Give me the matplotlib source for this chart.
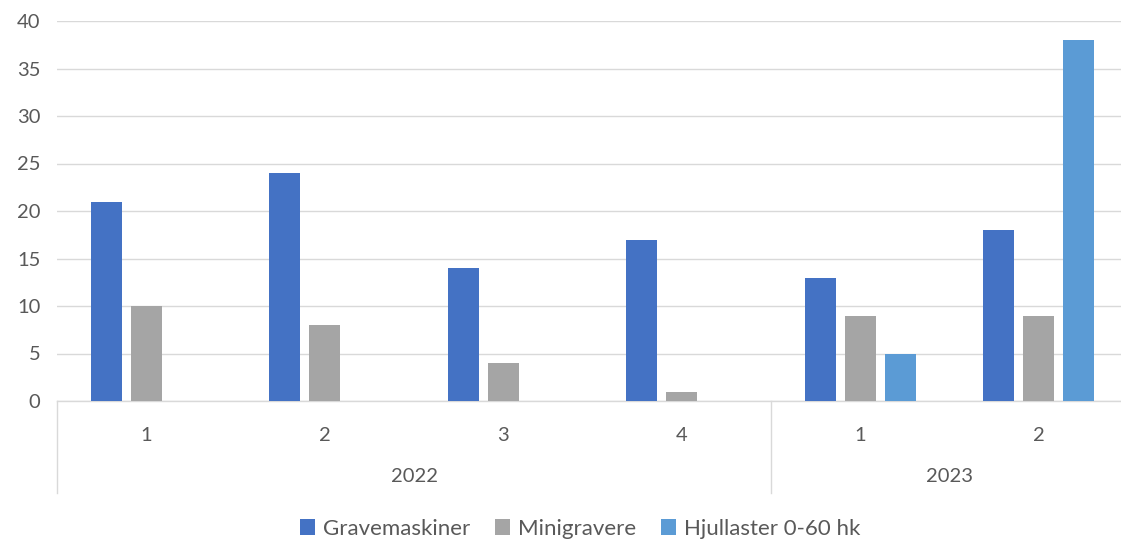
import matplotlib
matplotlib.use("Agg")
import matplotlib.pyplot as plt
import numpy as np
from matplotlib.transforms import blended_transform_factory

plt.rcParams['font.family'] = ['Lato', 'DejaVu Sans']

years = ["2022", "2023"]
quarters = ["1", "2", "3", "4", "1", "2"]
year_of_cat = [0, 0, 0, 0, 1, 1]
series_names = ["Gravemaskiner", "Minigravere", "Hjullaster 0-60 hk"]
gravemaskiner = [21, 24, 14, 17, 13, 18]
minigravere = [10, 8, 4, 1, 9, 9]
hjullaster = [0, 0, 0, 0, 5, 38]
colors = ["#4472C4", "#A5A5A5", "#5B9BD5"]
yticks = [0, 5, 10, 15, 20, 25, 30, 35, 40]

W, H = 1121, 539
fig = plt.figure(figsize=(W / 100, H / 100), dpi=100)
left, right, bottom, top = 57, 1128, 401, 21
ax = fig.add_axes([left / W, 1 - bottom / H, (right - left) / W, (bottom - top) / H])

x = np.arange(len(quarters))
bw = 0.176
off = 0.224
for i, (vals, name, c) in enumerate(zip([gravemaskiner, minigravere, hjullaster], series_names, colors)):
    ax.bar(x + (i - 1) * off, vals, width=bw, color=c, label=name, zorder=3)

ax.set_xlim(-0.5, len(quarters) - 0.5)
ax.set_ylim(0, 40)
ax.set_yticks(yticks)
ax.yaxis.grid(True, color="#D9D9D9", linewidth=1.0, zorder=0)
for s in ["top", "right", "left"]:
    ax.spines[s].set_visible(False)
ax.spines["bottom"].set_color("#D9D9D9")
ax.spines["bottom"].set_linewidth(1.0)
ax.tick_params(axis="y", length=0, pad=12, labelsize=14.5, labelcolor="#595959")
ax.set_xticks(x)
ax.set_xticklabels(quarters)
ax.tick_params(axis="x", length=0, pad=19, labelsize=14.5, labelcolor="#595959")

trans = blended_transform_factory(ax.transData, ax.transAxes)
depth = -(493 - 401) / (bottom - top)
for b in [-0.5, 3.5, 5.5]:
    ax.plot([b, b], [0, depth], transform=trans, color="#D9D9D9", linewidth=1.0, clip_on=False)
for yi, yr in enumerate(years):
    idx = [k for k, v in enumerate(year_of_cat) if v == yi]
    cx = (min(idx) + max(idx)) / 2
    ax.text(cx, -(477 - 401) / (bottom - top), yr, transform=trans, ha="center", va="center",
            fontsize=14.5, color="#595959")

leg = fig.legend(loc="center", bbox_to_anchor=(580 / W, 1 - 529 / H), ncol=3, frameon=False,
                 fontsize=16, handlelength=0.7, handleheight=0.7, handletextpad=0.35,
                 columnspacing=1.1, labelcolor="#595959")

fig.savefig("out.png", dpi=100)
